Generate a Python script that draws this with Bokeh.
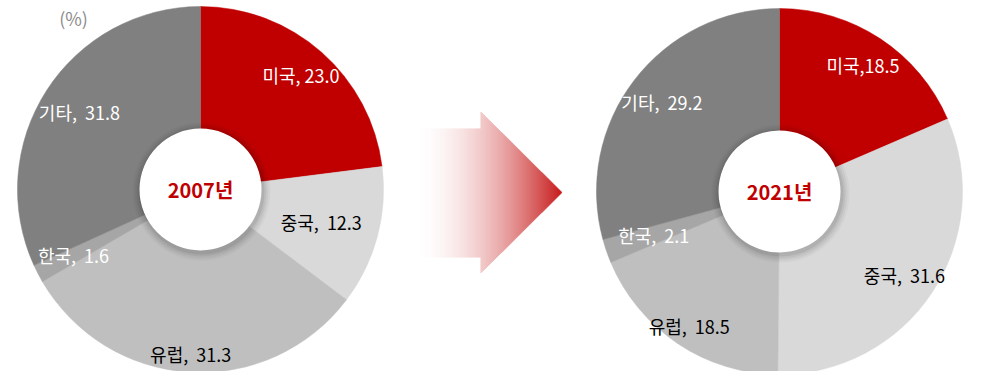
import math
from bokeh.plotting import figure
from bokeh.models import Range1d
from bokeh.core.properties import value
from bokeh.embed import file_html
from bokeh.resources import INLINE

# ---- data ----
categories = ["미국", "중국", "유럽", "한국", "기타"]
share_2007 = [23.0, 12.3, 31.3, 1.6, 31.8]
share_2021 = [18.5, 31.6, 18.5, 2.1, 29.2]
NB = "\u00a0"
sep_2007 = ["," + NB, "," + NB * 2, "," + NB * 2, "," + NB * 2, "," + NB * 2]
sep_2021 = [",", "," + NB * 2, "," + NB * 2, "," + NB * 2, "," + NB * 2]
year_labels = ["2007년", "2021년"]
unit_label = "(%)"

# ---- styles / layout ----
slice_colors = ["#C00000", "#D9D9D9", "#BFBFBF", "#A6A6A6", "#808080"]
label_colors = ["white", "black", "black", "white", "white"]
label_r_2007 = [152, 125, 165, 143, 144]
label_r_2021 = [152, 150, 162, 133, 148]
FONT = "Noto Sans CJK KR"

W, H = 967, 371
REF_H = 387


def Y(ref_y):
    return REF_H - ref_y


p = figure(width=W, height=H, output_backend="svg", toolbar_location=None,
           x_range=Range1d(0, W), y_range=Range1d(REF_H - H, REF_H),
           min_border=0)
p.axis.visible = False
p.grid.visible = False
p.outline_line_color = None
p.background_fill_color = "white"
p.border_fill_color = "white"


def draw_pie(cx, cy_ref, r, values, seps, label_r, year):
    cy = Y(cy_ref)
    total = sum(values)
    cum = 0.0
    starts, ends, mids = [], [], []
    for v in values:
        a0 = cum / total
        cum += v
        a1 = cum / total
        # clockwise from 12 o'clock
        starts.append(math.pi / 2 - 2 * math.pi * a1)
        ends.append(math.pi / 2 - 2 * math.pi * a0)
        mids.append(math.pi / 2 - 2 * math.pi * (a0 + a1) / 2)
    p.wedge(x=[cx] * len(values), y=[cy] * len(values), radius=r,
            start_angle=starts, end_angle=ends,
            fill_color=slice_colors, line_color=slice_colors, line_width=0.5)
    # soft shadow of the centre disc
    for k, a in [(8, 0.03), (6, 0.04), (4, 0.05), (2, 0.07)]:
        p.scatter(x=[cx + 1], y=[cy - 2], size=2 * (61 + k), marker="circle",
                  fill_color="black", fill_alpha=a, line_color=None)
    p.scatter(x=[cx], y=[cy], size=122, marker="circle",
              fill_color="white", line_color=None)
    p.text(x=[cx], y=[cy], text=[year], text_color="#C00000",
           text_font=value(FONT), text_font_style="bold",
           text_font_size="20px", text_align="center", text_baseline="middle")
    lx = [cx + rr * math.cos(m) for rr, m in zip(label_r, mids)]
    ly = [cy + rr * math.sin(m) for rr, m in zip(label_r, mids)]
    txt = [f"{c}{s}{v:.1f}" for c, s, v in zip(categories, seps, values)]
    p.text(x=lx, y=ly, text=txt, text_color=label_colors,
           text_font=value(FONT), text_font_size="18px",
           text_align="center", text_baseline="middle")


draw_pie(200, 189, 183, share_2007, sep_2007, label_r_2007, year_labels[0])
draw_pie(779, 191, 183, share_2021, sep_2021, label_r_2021, year_labels[1])

p.text(x=[73], y=[Y(17)], text=[unit_label], text_color="#8C8C8C",
       text_font=value(FONT), text_font_size="18px",
       text_align="center", text_baseline="middle")

# ---- gradient arrow (decoration) ----
x0, xh, xt = 415, 480, 561
sh_top, sh_bot = 128, 257
hd_top, hd_bot, tip_y = 112, 273, 192
L, R, T, B, C = [], [], [], [], []
for i in range(x0, xt):
    u = (i - x0) / (xt - x0)
    t = u ** 1.8
    rr = round(255 + (192 - 255) * t)
    gg = round(255 + (0 - 255) * t)
    bb = round(255 + (0 - 255) * t)
    if i < xh:
        top, bot = sh_top, sh_bot
    else:
        h = (xt - i) / (xt - xh) * (hd_bot - hd_top) / 2
        top, bot = tip_y - h, tip_y + h
    L.append(i)
    R.append(i + 1.3)
    T.append(Y(top))
    B.append(Y(bot))
    C.append(f"#{rr:02x}{gg:02x}{bb:02x}")
p.quad(left=L, right=R, top=T, bottom=B, fill_color=C, line_color=None)

open("out.html", "w").write(file_html(p, INLINE))
